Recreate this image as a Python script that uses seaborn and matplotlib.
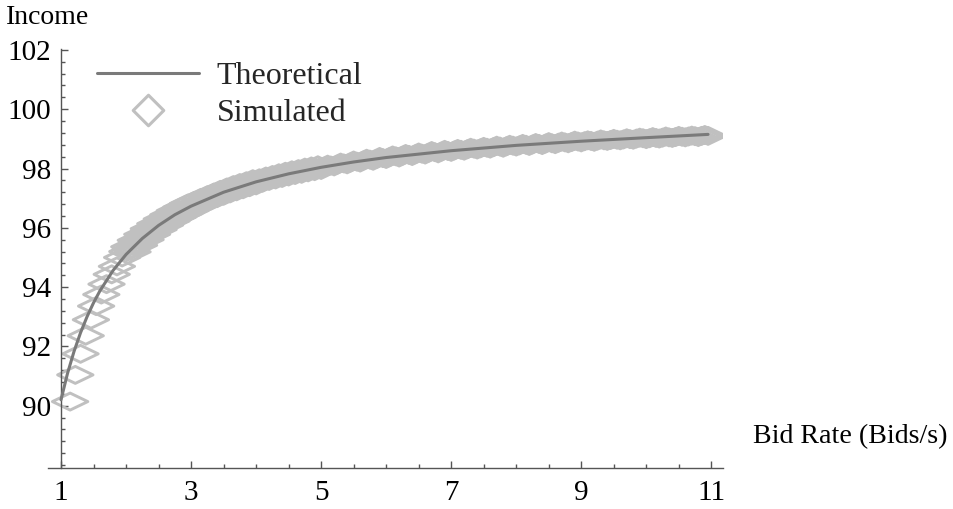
import matplotlib
matplotlib.use("Agg")
import matplotlib.pyplot as plt
import seaborn as sns
import pandas as pd
from matplotlib.path import Path
from matplotlib.markers import MarkerStyle
from matplotlib.lines import Line2D
from matplotlib.ticker import FixedLocator

# ---------------- data ----------------
theory_x = [1.0, 1.1, 1.2, 1.3, 1.4, 1.5, 1.6, 1.8, 2.0, 2.25, 2.5, 2.75,
            3.0, 3.5, 4.0, 4.5, 5.0, 5.5, 6.0, 7.0, 8.0, 9.0, 10.0, 10.95]
theory_y = [90.2, 91.09, 91.83, 92.46, 93.0, 93.47, 93.88, 94.56, 95.1, 95.64,
            96.08, 96.44, 96.73, 97.2, 97.55, 97.82, 98.04, 98.22, 98.37,
            98.6, 98.78, 98.92, 99.04, 99.15]

sim_x = [1.14, 1.22, 1.30, 1.38, 1.46, 1.54, 1.62, 1.70, 1.78, 1.86, 1.94, 2.02,
         2.05, 2.10, 2.15, 2.20, 2.25, 2.30, 2.35, 2.40, 2.45, 2.50,
         2.55, 2.60, 2.65, 2.70, 2.75, 2.80, 2.85, 2.90, 2.95, 3.00,
         3.05, 3.10, 3.15, 3.20, 3.25, 3.30, 3.35, 3.40, 3.45, 3.50,
         3.55, 3.60, 3.65, 3.70, 3.75, 3.80, 3.85, 3.90, 3.95, 4.00,
         4.05, 4.10, 4.15, 4.20, 4.25, 4.30, 4.35, 4.40, 4.45, 4.50,
         4.55, 4.60, 4.65, 4.70, 4.75, 4.80, 4.85, 4.90, 4.95, 5.00,
         5.1, 5.2, 5.3, 5.4, 5.5, 5.6, 5.7, 5.8, 5.9, 6.0,
         6.1, 6.2, 6.3, 6.4, 6.5, 6.6, 6.7, 6.8, 6.9,
         7.0, 7.1, 7.2, 7.3, 7.4, 7.5, 7.6, 7.7, 7.8, 7.9,
         8.0, 8.1, 8.2, 8.3, 8.4, 8.5, 8.6, 8.7, 8.8, 8.9,
         9.0, 9.1, 9.2, 9.3, 9.4, 9.5, 9.6, 9.7, 9.8, 9.9,
         10.0, 10.1, 10.2, 10.3, 10.4, 10.5, 10.6, 10.7, 10.8, 10.9, 10.95,
         2.075, 2.125, 2.175, 2.225, 2.275, 2.325, 2.375, 2.425, 2.475, 2.525,
         2.575, 2.625, 2.675, 2.725, 2.775, 2.825, 2.875, 2.925, 2.975, 3.025,
         3.075, 3.125, 3.175, 3.225, 3.275, 3.325, 3.375, 3.425, 3.475, 3.525,
         3.575, 3.625, 3.675, 3.725, 3.775, 3.825, 3.875, 3.925, 3.975, 4.025,
         4.075, 4.125, 4.175, 4.225, 4.275, 4.325, 4.375, 4.425, 4.475, 4.525,
         4.575, 4.625, 4.675, 4.725, 4.775, 4.825, 4.875, 4.925, 4.975,
         5.05, 5.15, 5.25, 5.35, 5.45, 5.55, 5.65, 5.75, 5.85, 5.95,
         6.05, 6.15, 6.25, 6.35, 6.45, 6.55, 6.65, 6.75, 6.85, 6.95,
         7.05, 7.15, 7.25, 7.35, 7.45, 7.55, 7.65, 7.75, 7.85, 7.95,
         8.05, 8.15, 8.25, 8.35, 8.45, 8.55, 8.65, 8.75, 8.85, 8.95,
         9.05, 9.15, 9.25, 9.35, 9.45, 9.55, 9.65, 9.75, 9.85, 9.95,
         10.05, 10.15, 10.25, 10.35, 10.45, 10.55, 10.65, 10.75, 10.85]
sim_y = [90.14, 91.04, 91.75, 92.36, 92.9, 93.36, 93.75, 94.1, 94.43, 94.7, 95.0, 95.2,
         95.36, 95.19, 95.58, 95.41, 95.78, 95.60, 95.97, 95.78, 96.14, 95.94,
         96.30, 96.09, 96.44, 96.23, 96.58, 96.36, 96.70, 96.48, 96.82, 96.59,
         96.91, 96.72, 97.01, 96.82, 97.10, 96.91, 97.19, 97.00, 97.28, 97.08,
         97.36, 97.16, 97.44, 97.23, 97.51, 97.30, 97.57, 97.37, 97.64, 97.43,
         97.67, 97.52, 97.73, 97.58, 97.78, 97.63, 97.84, 97.68, 97.89, 97.73,
         97.94, 97.78, 97.98, 97.82, 98.03, 97.87, 98.07, 97.91, 98.11, 97.95,
         98.13, 98.07, 98.20, 98.14, 98.27, 98.20, 98.33, 98.26, 98.39, 98.32,
         98.44, 98.37, 98.49, 98.42, 98.54, 98.47, 98.59, 98.51, 98.63,
         98.56, 98.66, 98.60, 98.70, 98.64, 98.73, 98.67, 98.77, 98.70, 98.80,
         98.74, 98.83, 98.76, 98.86, 98.79, 98.89, 98.82, 98.91, 98.85, 98.94,
         98.88, 98.95, 98.90, 98.98, 98.93, 99.00, 98.95, 99.02, 98.97, 99.04,
         98.99, 99.06, 99.01, 99.08, 99.03, 99.10, 99.05, 99.11, 99.06, 99.13, 99.10,
         95.28, 95.39, 95.49, 95.60, 95.69, 95.78, 95.87, 95.96, 96.04, 96.12,
         96.19, 96.27, 96.34, 96.40, 96.47, 96.53, 96.59, 96.65, 96.71, 96.76,
         96.81, 96.86, 96.91, 96.96, 97.01, 97.05, 97.10, 97.14, 97.18, 97.22,
         97.26, 97.30, 97.33, 97.37, 97.40, 97.44, 97.47, 97.50, 97.53, 97.57,
         97.60, 97.62, 97.65, 97.68, 97.71, 97.73, 97.76, 97.79, 97.81, 97.83,
         97.86, 97.88, 97.90, 97.93, 97.95, 97.97, 97.99, 98.01, 98.03,
         98.06, 98.10, 98.13, 98.17, 98.20, 98.23, 98.27, 98.30, 98.32, 98.35,
         98.38, 98.41, 98.43, 98.46, 98.48, 98.50, 98.53, 98.55, 98.57, 98.59,
         98.61, 98.63, 98.65, 98.67, 98.68, 98.70, 98.72, 98.74, 98.75, 98.77,
         98.78, 98.80, 98.81, 98.83, 98.84, 98.85, 98.87, 98.88, 98.89, 98.91,
         98.92, 98.93, 98.94, 98.95, 98.96, 98.97, 98.98, 98.99, 99.01, 99.02,
         99.02, 99.03, 99.04, 99.05, 99.06, 99.07, 99.08, 99.09, 99.10]

x_major = [1, 3, 5, 7, 9, 11]
y_major = [90, 92, 94, 96, 98, 100, 102]
x_label = "Bid Rate (Bids/s)"
y_label = "Income"
legend_labels = ["Theoretical", "Simulated"]

# ---------------- style ----------------
sns.set_style("white")
plt.rcParams["font.family"] = ["Liberation Serif", "DejaVu Serif"]

LINE_C = "#7a7a7a"
SIM_C = "#c0c0c0"
AX_C = "#555555"

fig = plt.figure(figsize=(9.54, 5.09), dpi=100)
W, H = 954, 509
ax = fig.add_axes([48 / W, 41 / H, 675 / W, 419 / H])

theory_df = pd.DataFrame({"x": theory_x, "y": theory_y})
sim_df = pd.DataFrame({"x": sim_x, "y": sim_y})

codes = [Path.MOVETO, Path.LINETO, Path.LINETO, Path.LINETO, Path.CLOSEPOLY]
flat_diamond = MarkerStyle(Path([(-1, 0), (0, 0.48), (1, 0), (0, -0.48), (-1, 0)], codes))
sym_diamond = MarkerStyle(Path([(-1, 0), (0, 1), (1, 0), (0, -1), (-1, 0)], codes))

sns.scatterplot(data=sim_df, x="x", y="y", ax=ax, marker=flat_diamond, s=25.5 ** 2,
                facecolor="none", edgecolor=SIM_C, linewidth=2.1, legend=False, zorder=2)
sns.lineplot(data=theory_df, x="x", y="y", ax=ax, color=LINE_C, linewidth=2.2,
             legend=False, zorder=3, sort=False)

ax.set_xlim(0.8, 11.18)
ax.set_ylim(87.9, 102.03)
ax.set_xlabel("")
ax.set_ylabel("")

for s in ["top", "right"]:
    ax.spines[s].set_visible(False)
ax.spines["left"].set_position(("data", 1))
for s in ["left", "bottom"]:
    ax.spines[s].set_color(AX_C)
    ax.spines[s].set_linewidth(1.0)

ax.xaxis.set_major_locator(FixedLocator(x_major))
ax.yaxis.set_major_locator(FixedLocator(y_major))
ax.xaxis.set_minor_locator(FixedLocator([1.5 + 0.5 * i for i in range(19)]))
ax.yaxis.set_minor_locator(FixedLocator([88.0 + 0.4 * i for i in range(36)]))
ax.set_xticklabels([str(v) for v in x_major])
ax.set_yticklabels([str(v) for v in y_major])

ax.tick_params(axis="both", which="major", direction="in", length=5, width=1.0,
               color=AX_C, labelsize=21, labelcolor="black")
ax.tick_params(axis="both", which="minor", direction="in", length=3, width=1.0, color=AX_C)
ax.tick_params(axis="x", which="major", pad=9)
ax.tick_params(axis="y", which="major", pad=7)
ax.tick_params(left=True, bottom=True, which="both")

fig.text(6 / W, 1 - 18 / H, y_label, ha="left", va="center", fontsize=20, color="black")
fig.text(753 / W, 1 - 437 / H, x_label, ha="left", va="center", fontsize=20.2, color="black")

handles = [Line2D([], [], color=LINE_C, linewidth=2.2),
           Line2D([], [], linestyle="", marker=sym_diamond, markersize=22,
                  markerfacecolor="none", markeredgecolor=SIM_C, markeredgewidth=2.2)]
ax.legend(handles, legend_labels, loc="upper left", bbox_to_anchor=(97 / W, 1 - 62 / H),
          bbox_transform=fig.transFigure, frameon=False, fontsize=23, handlelength=3.2,
          handletextpad=0.55, labelspacing=0.22, borderpad=0, borderaxespad=0)

fig.savefig("out.png", dpi=100)
